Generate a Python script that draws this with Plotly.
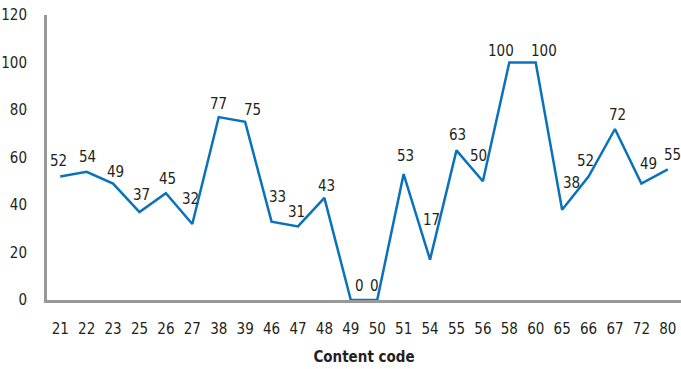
import plotly.graph_objects as go

codes = ["21", "22", "23", "25", "26", "27", "38", "39", "46", "47", "48", "49",
         "50", "51", "54", "55", "56", "58", "60", "65", "66", "67", "72", "80"]
values = [52, 54, 49, 37, 45, 32, 77, 75, 33, 31, 43, 0,
          0, 53, 17, 63, 50, 100, 100, 38, 52, 72, 49, 55]

FONT = "DejaVu Sans Condensed, Liberation Sans Narrow, Arial Narrow, sans-serif"
TEXT = "#231f20"
AXIS = "#999999"
LINE = "#0a72ba"

# nudges (px, right / up) so each value label clears the line around its point
label_nudge = [(-2, 16), (1, 15), (2, 12), (2, 17), (2, 14), (-2, 25),
               (0, 13), (7, 12), (6, 25), (-1, 14), (2, 12), (9, 14),
               (-3, 14), (2, 18), (1, 40), (1, 15), (-4, 25), (-8, 12),
               (8, 12), (9, 27), (-3, 16), (3, 14), (7, 20), (5, 14)]

fig = go.Figure(
    go.Scatter(
        x=codes,
        y=values,
        mode="lines",
        line=dict(color=LINE, width=2.5),
        cliponaxis=False,
        hoverinfo="x+y",
    )
)

# category axis: annotation x is the category's position index
for i, (v, (dx, dy)) in enumerate(zip(values, label_nudge)):
    fig.add_annotation(
        x=i, y=v, text=str(v), showarrow=False,
        xanchor="center", yanchor="middle",
        xshift=dx, yshift=dy,
        font=dict(family=FONT, size=15, color=TEXT),
    )

fig.update_layout(
    width=681,
    height=369,
    margin=dict(l=47, r=0, t=15, b=69),
    paper_bgcolor="white",
    plot_bgcolor="white",
    showlegend=False,
    font=dict(family=FONT, size=15, color=TEXT),
    xaxis=dict(
        type="category",
        range=[-0.5, len(codes) - 0.5],
        showgrid=False,
        showline=True,
        linecolor=AXIS,
        linewidth=3,
        ticks="",
        ticklabelstandoff=13,
        tickfont=dict(family=FONT, size=15, color=TEXT),
        title=dict(text="<b>Content code</b>", standoff=15,
                   font=dict(family=FONT, size=15, color=TEXT)),
        zeroline=False,
    ),
    yaxis=dict(
        range=[0, 120],
        dtick=20,
        showgrid=False,
        showline=True,
        linecolor=AXIS,
        linewidth=3,
        ticks="",
        ticklabelstandoff=14,
        tickfont=dict(family=FONT, size=15, color=TEXT),
        zeroline=False,
    ),
)

fig.write_html("out.html")
